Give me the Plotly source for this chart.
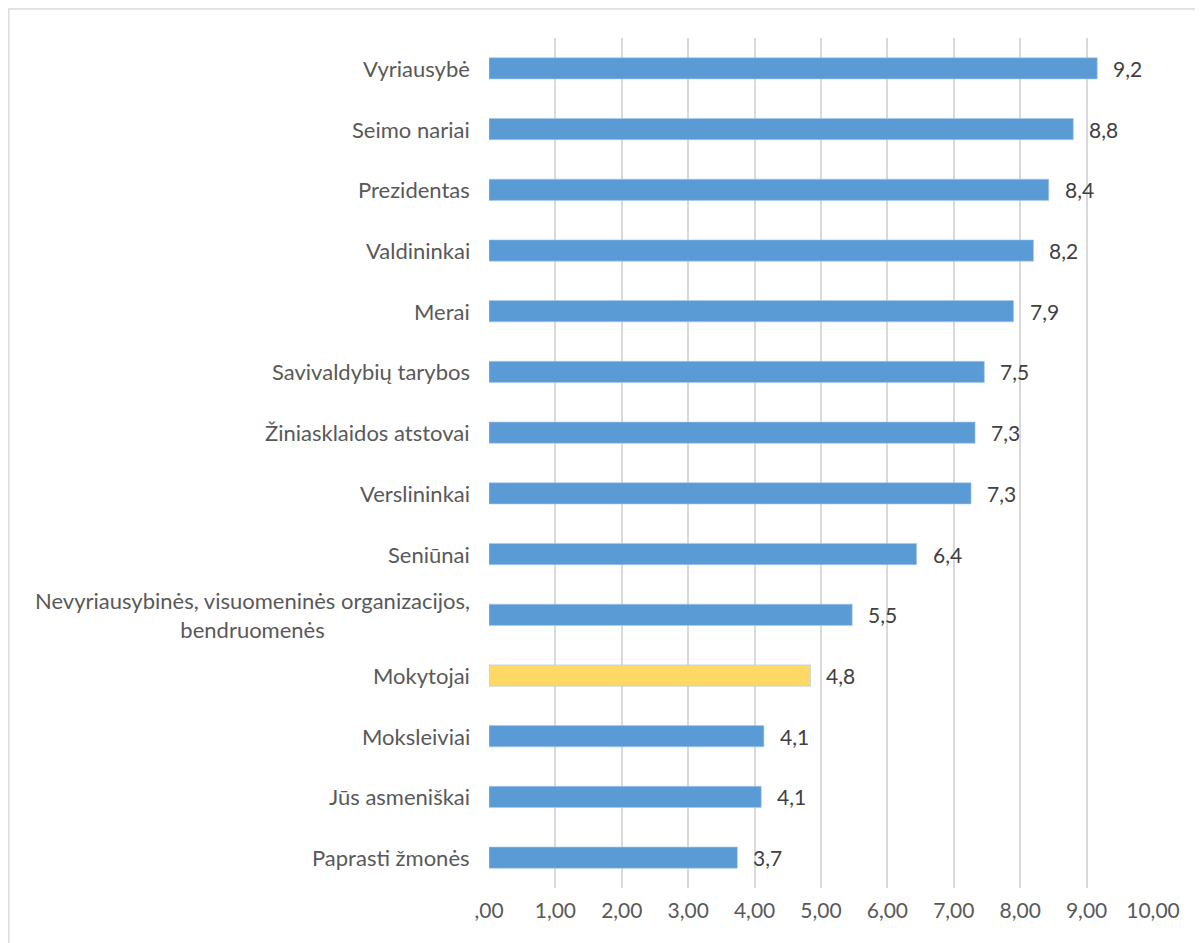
import plotly.graph_objects as go

categories = [
    "Vyriausybė", "Seimo nariai", "Prezidentas", "Valdininkai", "Merai",
    "Savivaldybių tarybos", "Žiniasklaidos atstovai", "Verslininkai", "Seniūnai",
    "Nevyriausybinės, visuomeninės organizacijos,<br>bendruomenės",
    "Mokytojai", "Moksleiviai", "Jūs asmeniškai", "Paprasti žmonės",
]
values = [9.16, 8.80, 8.43, 8.20, 7.90, 7.46, 7.32, 7.26, 6.44, 5.47, 4.84, 4.14, 4.10, 3.74]
highlight = "Mokytojai"
tick_vals = [0, 1, 2, 3, 4, 5, 6, 7, 8, 9, 10]
tick_text = [",00", "1,00", "2,00", "3,00", "4,00", "5,00", "6,00", "7,00", "8,00", "9,00", "10,00"]

BLUE = "#5B9BD5"
GOLD = "#FFD966"
FONT = "Lato"
FS = 21

colors = [GOLD if c == highlight else BLUE for c in categories]
labels = [f"{v:.1f}".replace(".", ",") for v in values]

fig = go.Figure(go.Bar(
    x=values, y=categories, orientation="h",
    marker=dict(color=colors, line=dict(color="#A9C9EA", width=0.6)),
    width=0.35, hoverinfo="skip",
))

annotations = []
for c in categories:
    annotations.append(dict(
        x=0, y=c, xref="x", yref="y", text=c, showarrow=False,
        xanchor="right", align="center", xshift=-17,
        font=dict(family=FONT, size=22, color="#595959"),
    ))
for c, v, t in zip(categories, values, labels):
    annotations.append(dict(
        x=v, y=c, xref="x", yref="y", text=t, showarrow=False,
        xanchor="left", xshift=14,
        font=dict(family=FONT, size=FS, color="#404040"),
    ))

# page body has an 8px default margin, so the figure is placed at (8, 8)
W, H = 1195, 935
L, R, T, B = 481, 50, 30, 55
pw, ph = W - L - R, H - T - B

fig.update_layout(
    width=W, height=H,
    margin=dict(l=L, r=R, t=T, b=B),
    paper_bgcolor="white", plot_bgcolor="white",
    showlegend=False,
    annotations=annotations,
    shapes=[dict(type="rect", xref="paper", yref="paper",
                 x0=(0.8 - L) / pw, x1=1.3, y0=-0.3, y1=(ph + T - 1.0) / ph,
                 line=dict(color="#D9D9D9", width=1.4), fillcolor="rgba(0,0,0,0)",
                 layer="below")],
    xaxis=dict(range=[0, 10], tickvals=tick_vals, ticktext=tick_text,
               showgrid=True, gridcolor="#D9D9D9", gridwidth=1.5,
               zeroline=False, showline=False, ticks="",
               ticklabelstandoff=8,
               tickfont=dict(family=FONT, size=FS, color="#595959")),
    yaxis=dict(autorange="reversed", showticklabels=False, showgrid=False,
               zeroline=False, showline=False, ticks=""),
)

fig.write_html("out.html")
